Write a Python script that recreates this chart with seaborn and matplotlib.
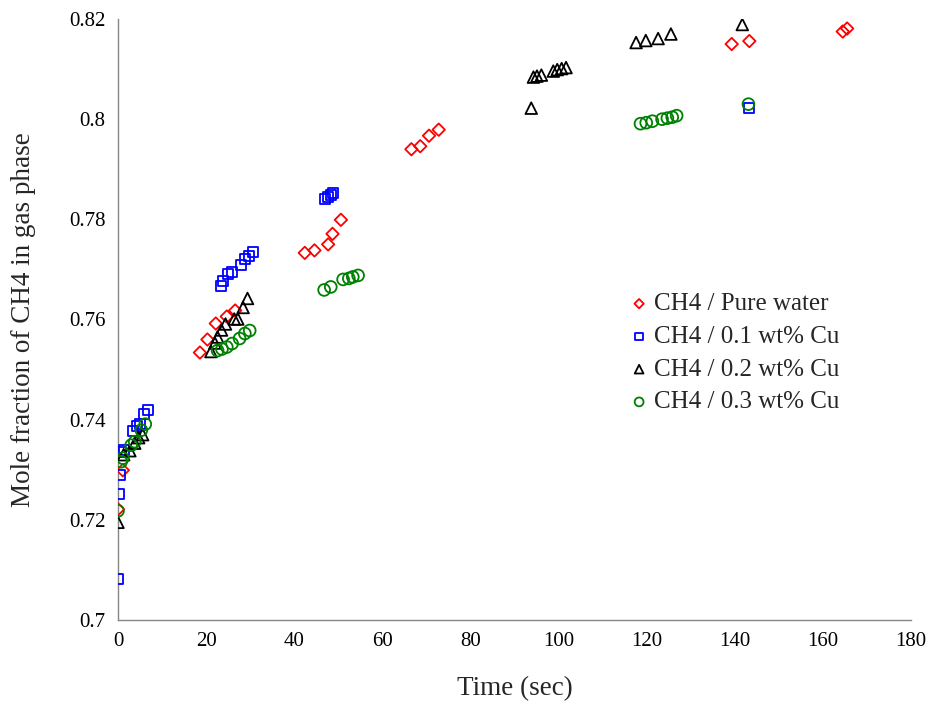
import matplotlib
matplotlib.use("Agg")
import matplotlib.pyplot as plt
import seaborn as sns
import pandas as pd
from matplotlib.ticker import FixedLocator, FuncFormatter

# ---- data ----
pure_x = [0, 1.1, 18.6, 20.3, 22.2, 24.7, 26.6, 42.4, 44.6, 47.7, 48.7, 50.6,
          66.6, 68.6, 70.6, 72.8, 139.3, 143.3, 164.5, 165.5]
pure_y = [0.7221, 0.7299, 0.7534, 0.7560, 0.7592, 0.7606, 0.7618, 0.7733, 0.7738, 0.7750,
          0.7771, 0.7799, 0.7940, 0.7946, 0.7967, 0.7979, 0.8150, 0.8156, 0.8175, 0.8181]

cu1_x = [0, 0.2, 0.5, 0.8, 1.3, 3.5, 4.3, 5.0, 6.0, 6.9,
         23.3, 23.9, 24.9, 25.8, 27.9, 28.8, 29.8, 30.7,
         47.0, 47.7, 48.3, 48.9, 143.2]
cu1_y = [0.7081, 0.7252, 0.7290, 0.7335, 0.7340, 0.7378, 0.7387, 0.7391, 0.7412, 0.7420,
         0.7667, 0.7677, 0.7690, 0.7695, 0.7708, 0.7721, 0.7726, 0.7734,
         0.7841, 0.7845, 0.7848, 0.7852, 0.8022]

cu2_x = [0, 1.3, 2.7, 3.8, 4.7, 5.6,
         21.1, 22.0, 22.6, 23.5, 24.4, 26.4, 27.2, 28.4, 29.4,
         93.8, 94.3, 95.1, 96.1, 98.8, 99.7, 100.7, 101.7,
         117.6, 119.8, 122.6, 125.5, 141.7]
cu2_y = [0.7195, 0.7330, 0.7338, 0.7353, 0.7364, 0.7370,
         0.7536, 0.7553, 0.7565, 0.7579, 0.7591, 0.7601, 0.7601, 0.7624, 0.7642,
         0.8022, 0.8084, 0.8086, 0.8088, 0.8096, 0.8099, 0.8101, 0.8103,
         0.8153, 0.8157, 0.8161, 0.8170, 0.8189]

cu3_x = [0, 0.7, 1.1, 3.0, 3.8, 5.3, 6.2,
         22.6, 23.6, 24.7, 25.9, 27.6, 28.8, 29.9,
         46.8, 48.3, 51.1, 52.4, 53.3, 54.5,
         118.6, 119.9, 121.3, 123.5, 124.7, 125.8, 126.8, 143.1]
cu3_y = [0.7218, 0.7316, 0.7323, 0.7349, 0.7356, 0.7379, 0.7391,
         0.7538, 0.7541, 0.7545, 0.7552, 0.7562, 0.7572, 0.7578,
         0.7659, 0.7665, 0.7680, 0.7682, 0.7685, 0.7688,
         0.7991, 0.7993, 0.7996, 0.8000, 0.8002, 0.8004, 0.8007, 0.8030]

labels = ["CH4 / Pure water", "CH4 / 0.1 wt% Cu", "CH4 / 0.2 wt% Cu", "CH4 / 0.3 wt% Cu"]
x_ticks = [0, 20, 40, 60, 80, 100, 120, 140, 160, 180]
y_ticks = [0.7, 0.72, 0.74, 0.76, 0.78, 0.8, 0.82]

series = [(pure_x, pure_y, labels[0], "#FF0000", "D", 40),
          (cu1_x, cu1_y, labels[1], "#0000FF", "s", 52),
          (cu2_x, cu2_y, labels[2], "#000000", "^", 70),
          (cu3_x, cu3_y, labels[3], "#008000", "o", 72)]

sns.set_style("white")
plt.rcParams["font.family"] = ["Liberation Serif", "DejaVu Serif"]

fig = plt.figure(figsize=(9.34, 7.07), dpi=100)
ax = fig.add_axes([0.1263, 0.1231, 0.8491, 0.85])

for xs, ys, lab, col, mk, sz in series:
    df = pd.DataFrame({"x": xs, "y": ys})
    sns.scatterplot(data=df, x="x", y="y", ax=ax, marker=mk, s=sz,
                    facecolor="none", edgecolor=col, linewidth=1.3,
                    label=lab, zorder=3)

ax.set_xlim(0, 180)
ax.set_ylim(0.7, 0.82)
ax.xaxis.set_major_locator(FixedLocator(x_ticks))
ax.yaxis.set_major_locator(FixedLocator(y_ticks))
ax.yaxis.set_major_formatter(FuncFormatter(lambda v, p: ("%g" % round(v, 4))))
ax.xaxis.set_major_formatter(FuncFormatter(lambda v, p: "%d" % v))

for side in ["top", "right"]:
    ax.spines[side].set_visible(False)
for side in ["left", "bottom"]:
    ax.spines[side].set_color("#868686")
    ax.spines[side].set_linewidth(1.0)
ax.tick_params(axis="both", which="major", direction="out", length=5, width=1,
               color="#868686", labelsize=15, labelcolor="black", pad=4)
ax.grid(False)

ax.set_xlabel("Time (sec)", fontsize=19.5, labelpad=18)
ax.set_ylabel("Mole fraction of CH4 in gas phase", fontsize=19.5, labelpad=24)

leg = ax.legend(loc="upper left", bbox_to_anchor=(0.613, 0.582), frameon=False,
                fontsize=18, handletextpad=0.1, labelspacing=0.41,
                markerscale=0.75, handlelength=1.0)

fig.savefig("out.png", dpi=100)
